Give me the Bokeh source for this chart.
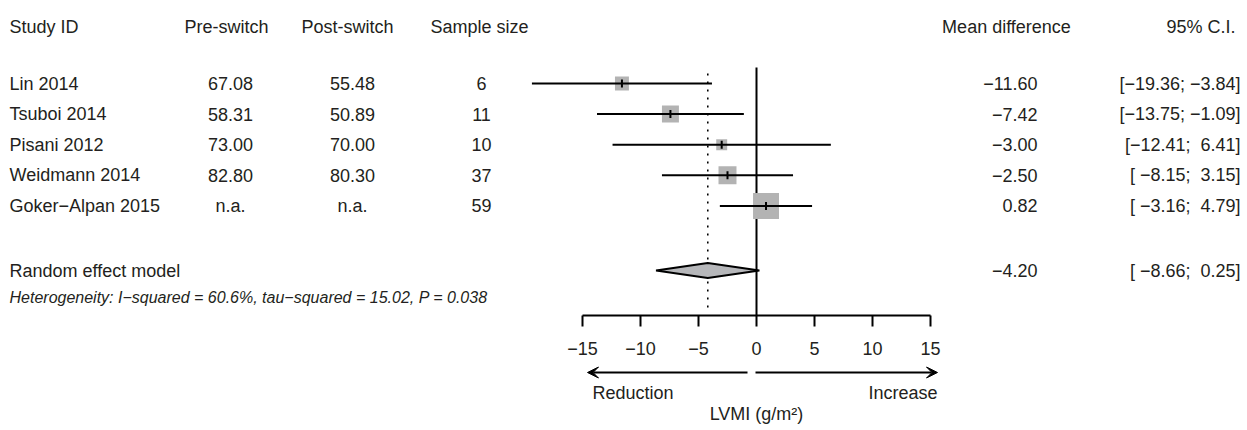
from bokeh.plotting import figure
from bokeh.models import Range1d, FixedTicker, Arrow, VeeHead
from bokeh.layouts import column
from bokeh.embed import file_html
from bokeh.resources import INLINE
from bokeh.core.properties import value
import math

# ---------------- data ----------------
headers = ["Study ID", "Pre-switch", "Post-switch", "Sample size", "Mean difference", "95% C.I."]
studies = ["Lin 2014", "Tsuboi 2014", "Pisani 2012", "Weidmann 2014", "Goker\u2212Alpan 2015"]
pre_switch = [67.08, 58.31, 73.00, 82.80, None]
post_switch = [55.48, 50.89, 70.00, 80.30, None]
sample_size = [6, 11, 10, 37, 59]
mean_diff = [-11.60, -7.42, -3.00, -2.50, 0.82]
ci_lower = [-19.36, -13.75, -12.41, -8.15, -3.16]
ci_upper = [-3.84, -1.09, 6.41, 3.15, 4.79]
weights = [12.2, 18.0, 7.5, 20.2, 42.1]  # percent

pooled_label = "Random effect model"
pooled_md = -4.20
pooled_lower = -8.66
pooled_upper = 0.25
i_squared = 60.6
tau_squared = 15.02
p_value = 0.038

axis_ticks = [-15, -10, -5, 0, 5, 10, 15]
axis_title = "LVMI (g/m\u00b2)"
left_dir = "Reduction"
right_dir = "Increase"

# ---------------- layout ----------------
W = 1245
PX0 = 756.0     # x of effect 0 (in picture pixels)
PPU = 11.6      # pixels per unit
def dx(px):
    return (px - PX0) / PPU

FONT = value("Liberation Sans")
TXT = "#231f20"
FS = "18px"

AXIS_Y = 315
HA = 365
HB = 428 - HA
HEAD_Y = 26
ROW_Y0, ROW_STEP = 83, 30.6
row_y = [ROW_Y0 + i * ROW_STEP for i in range(len(studies))]
POOL_Y = 270
HET_Y = 297

def fnum(v):
    return f"{v:.2f}".replace("-", "\u2212")

x_range = Range1d(dx(0), dx(W))

pA = figure(width=W, height=HA, x_range=x_range, y_range=Range1d(AXIS_Y, 0),
            output_backend="svg", toolbar_location=None, y_axis_location=None,
            min_border=0, min_border_bottom=HA - AXIS_Y)
pA.outline_line_color = None
pA.xgrid.grid_line_color = None
pA.ygrid.grid_line_color = None
pA.background_fill_color = "white"

ax = pA.xaxis[0]
ax.ticker = FixedTicker(ticks=axis_ticks)
ax.bounds = (min(axis_ticks), max(axis_ticks))
ax.major_label_overrides = {t: str(t).replace("-", "\u2212") for t in axis_ticks}
ax.minor_tick_line_color = None
ax.major_tick_in = 0
ax.major_tick_out = 11
ax.axis_line_width = 2
ax.major_tick_line_width = 2
ax.axis_line_color = "black"
ax.major_tick_line_color = "black"
ax.major_label_text_font = "Liberation Sans"
ax.major_label_text_font_size = FS
ax.major_label_text_color = TXT
ax.major_label_standoff = 15

# reference lines
pA.segment(x0=[0], y0=[67], x1=[0], y1=[AXIS_Y], line_width=2, line_color="black")
pA.segment(x0=[pooled_md], y0=[73], x1=[pooled_md], y1=[AXIS_Y - 2],
           line_width=1.6, line_color="black", line_dash="2 6")

# study boxes, CI lines, point ticks
sizes = [40 * math.sqrt(w / 100.0) for w in weights]
pA.scatter(x=mean_diff, y=row_y, size=sizes, marker="square",
           fill_color="#b3b3b3", line_color=None)
pA.segment(x0=ci_lower, y0=row_y, x1=ci_upper, y1=row_y, line_width=2, line_color="black")
pA.segment(x0=mean_diff, y0=[y - 4 for y in row_y], x1=mean_diff, y1=[y + 4 for y in row_y],
           line_width=2, line_color="black")

# pooled diamond
pA.patch(x=[pooled_lower, pooled_md, pooled_upper, pooled_md],
         y=[POOL_Y, POOL_Y - 7.5, POOL_Y, POOL_Y + 7.5],
         fill_color="#b6b7ba", line_color="black", line_width=2)

def txt(p, xs, ys, texts, align, size=FS, style="normal"):
    p.text(x=xs, y=ys, text=texts, text_align=align, text_baseline="middle",
           text_font=FONT, text_font_size=size, text_color=TXT, text_font_style=style)

# headers
txt(pA, [dx(9)], [HEAD_Y], [headers[0]], "left")
txt(pA, [dx(226), dx(347), dx(479), dx(1006)], [HEAD_Y] * 4, headers[1:5], "center")
txt(pA, [dx(1235)], [HEAD_Y], [headers[5]], "right")

# study rows
n = len(studies)
txt(pA, [dx(9)] * n, row_y, studies, "left")
txt(pA, [dx(230)] * n, row_y, [fnum(v) if v is not None else "n.a." for v in pre_switch], "center")
txt(pA, [dx(352)] * n, row_y, [fnum(v) if v is not None else "n.a." for v in post_switch], "center")
txt(pA, [dx(481)] * n, row_y, [str(s) for s in sample_size], "center")
txt(pA, [dx(1037)] * n, row_y, [fnum(v) for v in mean_diff], "right")

NBSP = "\u00a0"
def ci_text(lo, hi):
    return ("[" + fnum(lo).rjust(6, NBSP) + ";" + NBSP + fnum(hi).rjust(5, NBSP) + "]")

txt(pA, [dx(1240)] * n, row_y, [ci_text(l, u) for l, u in zip(ci_lower, ci_upper)], "right")

# pooled row
txt(pA, [dx(9)], [POOL_Y], [pooled_label], "left")
txt(pA, [dx(1037)], [POOL_Y], [fnum(pooled_md)], "right")
txt(pA, [dx(1240)], [POOL_Y], [ci_text(pooled_lower, pooled_upper)], "right")

het = (f"Heterogeneity: I\u2212squared = {i_squared:.1f}%, "
       f"tau\u2212squared = {tau_squared:.2f}, P = {p_value:.3f}")
txt(pA, [dx(9)], [HET_Y], [het], "left", size="16px", style="italic")

# ---------------- bottom panel: direction arrows & axis title ----------------
top_b = HA
pB = figure(width=W, height=HB, x_range=x_range, y_range=Range1d(top_b + HB, top_b),
            output_backend="svg", toolbar_location=None,
            x_axis_location=None, y_axis_location=None, min_border=0)
pB.outline_line_color = None
pB.xgrid.grid_line_color = None
pB.ygrid.grid_line_color = None

ARROW_Y = 372
pB.add_layout(Arrow(x_start=dx(747), y_start=ARROW_Y, x_end=dx(587), y_end=ARROW_Y,
                    line_width=2, line_color="black",
                    end=VeeHead(size=11, fill_color="black", line_color="black", line_width=1)))
pB.add_layout(Arrow(x_start=dx(755), y_start=ARROW_Y, x_end=dx(937), y_end=ARROW_Y,
                    line_width=2, line_color="black",
                    end=VeeHead(size=11, fill_color="black", line_color="black", line_width=1)))
txt(pB, [dx(592)], [392], [left_dir], "left")
txt(pB, [dx(937)], [392], [right_dir], "right")
txt(pB, [0], [413], [axis_title], "center")

layout = column(pA, pB, spacing=0)
open("out.html", "w").write(file_html(layout, INLINE))
